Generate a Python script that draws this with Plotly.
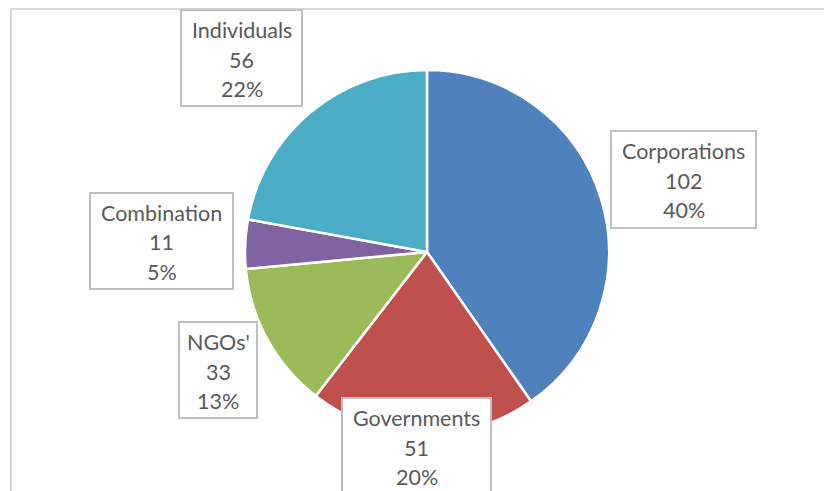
import plotly.graph_objects as go

# ---- data ----
categories = ["Corporations", "Governments", "NGOs'", "Combination", "Individuals"]
values = [102, 51, 33, 11, 56]
percent_labels = ["40%", "20%", "13%", "5%", "22%"]
colors = ["#4F81BD", "#C0504D", "#9BBB59", "#8064A2", "#4BACC6"]

# ---- layout (pixel geometry of the 832x491 window; page body has an 8px margin) ----
OFF = 8
W, H = 832 - OFF, 491 - OFF
cx, cy, r = 427, 252, 182
# label boxes: (left, top, right, bottom) in window px
boxes = [
    (611, 131, 756, 228),
    (342, 398, 491, 495),
    (179, 322, 257, 418),
    (90, 193, 233, 289),
    (181, 10, 302, 106),
]
FONT = "Lato"
FS = 21.5
TXT = "#595959"
LINE_GAP = 29.5


def px(x):
    return (x - OFF) / W


def py(y):
    return 1 - (y - OFF) / H


fig = go.Figure(go.Pie(
    labels=categories,
    values=values,
    sort=False,
    direction="clockwise",
    rotation=0,
    marker=dict(colors=colors, line=dict(color="white", width=2.5)),
    textinfo="none",
    hoverinfo="label+value+percent",
    domain=dict(x=[px(cx - r), px(cx + r)], y=[py(cy + r), py(cy - r)]),
    showlegend=False,
))

shapes = [
    # chart frame (top and left edges visible)
    dict(type="line", xref="paper", yref="paper", x0=px(10), x1=px(840), y0=py(9), y1=py(9),
         line=dict(color="#D9D9D9", width=2)),
    dict(type="line", xref="paper", yref="paper", x0=px(11), x1=px(11), y0=py(9), y1=py(500),
         line=dict(color="#D9D9D9", width=2)),
]
annotations = []
for cat, val, pct, (l, t, rr, b) in zip(categories, values, percent_labels, boxes):
    shapes.append(dict(type="rect", xref="paper", yref="paper",
                       x0=px(l), x1=px(rr), y0=py(b), y1=py(t),
                       fillcolor="white", line=dict(color="#BFBFBF", width=2), layer="above"))
    xc = (l + rr) / 2
    for i, txt in enumerate([cat, str(val), pct]):
        yc = t + 20 + i * LINE_GAP
        annotations.append(dict(x=px(xc), y=py(yc), xref="paper", yref="paper",
                                text=txt, showarrow=False, xanchor="center", yanchor="middle",
                                font=dict(family=FONT, size=FS, color=TXT)))

fig.update_layout(
    width=W, height=H,
    margin=dict(l=0, r=0, t=0, b=0),
    paper_bgcolor="white",
    plot_bgcolor="white",
    shapes=shapes,
    annotations=annotations,
)

fig.write_html("out.html")
